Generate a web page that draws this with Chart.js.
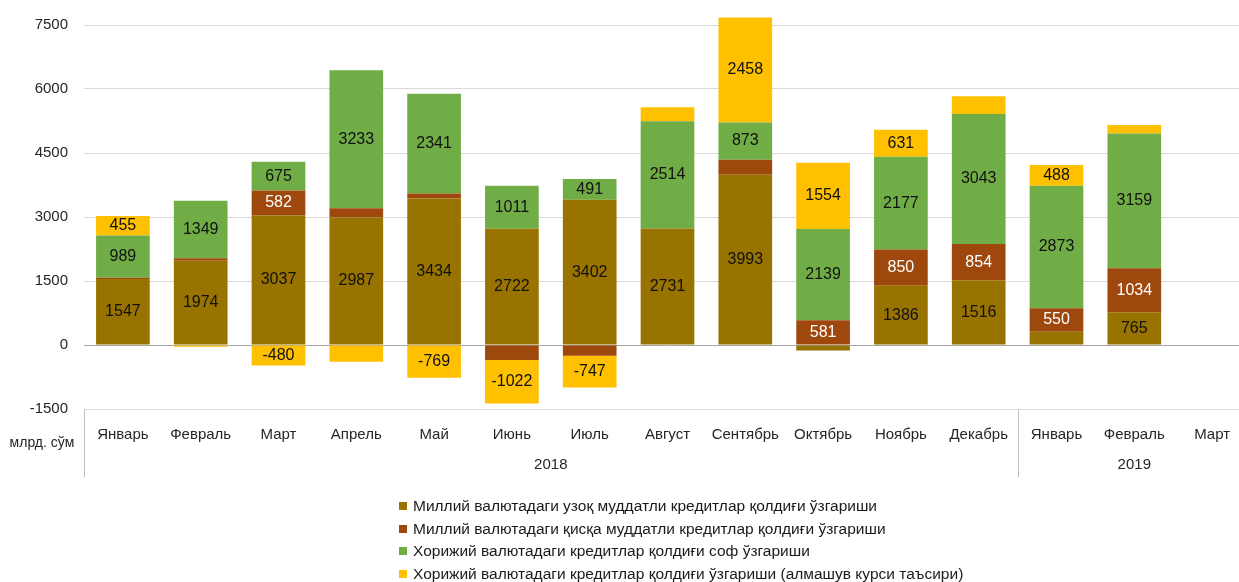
<!DOCTYPE html>
<html>
<head>
<meta charset="utf-8">
<script src="https://cdn.jsdelivr.net/npm/chart.js@4.4.0/dist/chart.umd.min.js"></script>
<style>
  html, body { margin: 0; padding: 0; background: #fff; overflow: hidden; }
  #wrap { position: relative; width: 1251px; height: 582px; }
  #legend { position: absolute; left: 399px; top: 495px; font: 15.5px "Liberation Sans", Arial, sans-serif; color: #1a1a1a; }
  #legend div { height: 22.5px; line-height: 22.5px; white-space: nowrap; }
  #legend span { display: inline-block; width: 8px; height: 8px; margin-right: 6px; vertical-align: 1px; }
</style>
</head>
<body>
<div id="wrap">
  <canvas id="chart" width="1251" height="582"></canvas>
  <div id="legend"></div>
</div>
<script>
const months = ["Январь", "Февраль", "Март", "Апрель", "Май", "Июнь", "Июль", "Август", "Сентябрь", "Октябрь", "Ноябрь", "Декабрь", "Январь", "Февраль", "Март"];
const years = ["2018", "2019"];
const yearSizes = [12, 3];

const longTerm = [1547, 1974, 3037, 2987, 3434, 2722, 3402, 2731, 3993, -130, 1386, 1516, 310, 765, null];
const shortTerm = [30, 60, 582, 220, 115, -350, -250, 0, 350, 581, 850, 854, 550, 1034, null];
const foreignNet = [989, 1349, 675, 3233, 2341, 1011, 491, 2514, 873, 2139, 2177, 3043, 2873, 3159, null];
const exchangeEffect = [455, -40, -480, -390, -769, -1022, -747, 330, 2458, 1554, 631, 420, 488, 200, null];

const seriesNames = [
  "Миллий валютадаги узоқ муддатли кредитлар қолдиғи ўзгариши",
  "Миллий валютадаги қисқа муддатли кредитлар қолдиғи ўзгариши",
  "Хорижий валютадаги кредитлар қолдиғи соф ўзгариши",
  "Хорижий валютадаги кредитлар қолдиғи ўзгариши (алмашув курси таъсири)"
];
const colors = ["#987300", "#9e480e", "#70ad47", "#ffc000"];
const labelColors = ["#111", "#fff", "#111", "#111"];

const FONT = '"Liberation Sans", Arial, sans-serif';

// подписи значений внутри сегментов
const valueLabels = {
  id: "valueLabels",
  afterDatasetsDraw(chart) {
    const ctx = chart.ctx;
    ctx.save();
    ctx.font = "16px " + FONT;
    ctx.textAlign = "center";
    ctx.textBaseline = "middle";
    chart.data.datasets.forEach((ds, i) => {
      const meta = chart.getDatasetMeta(i);
      meta.data.forEach((bar, j) => {
        const v = ds.data[j];
        if (v === null || Math.abs(v) < 450) return;
        ctx.fillStyle = labelColors[i];
        ctx.fillText(String(v), bar.x, (bar.y + bar.base) / 2);
      });
    });
    ctx.restore();
  }
};

// годы и разделители под осью
const yearRow = {
  id: "yearRow",
  afterDraw(chart) {
    const ctx = chart.ctx;
    const area = chart.chartArea;
    const x = chart.scales.x;
    ctx.save();
    ctx.strokeStyle = "#bfbfbf";
    ctx.lineWidth = 1;
    ctx.font = "15px " + FONT;
    ctx.fillStyle = "#262626";
    ctx.textAlign = "center";
    ctx.textBaseline = "middle";
    let start = 0;
    let left = area.left;
    years.forEach((yr, k) => {
      const end = start + yearSizes[k];
      const right = end < months.length ? (x.getPixelForValue(end - 1) + x.getPixelForValue(end)) / 2 : area.right;
      ctx.beginPath();
      ctx.moveTo(Math.round(left) + 0.5, area.bottom);
      ctx.lineTo(Math.round(left) + 0.5, 477);
      ctx.stroke();
      ctx.fillText(yr, (left + right) / 2, 465);
      left = right;
      start = end;
    });
    ctx.font = "14px " + FONT;
    ctx.fillText("млрд. сўм", 42, 443);
    ctx.restore();
  }
};

const datasets = [longTerm, shortTerm, foreignNet, exchangeEffect].map((d, i) => ({
  label: seriesNames[i],
  data: d,
  backgroundColor: colors[i],
  borderWidth: 0,
  categoryPercentage: 1,
  barPercentage: 0.69,
  clip: false
}));

new Chart(document.getElementById("chart"), {
  type: "bar",
  data: { labels: months, datasets: datasets },
  options: {
    responsive: false,
    animation: false,
    layout: { padding: { top: 23, right: 0, bottom: 0, left: 0 } },
    plugins: { legend: { display: false }, tooltip: { enabled: false } },
    scales: {
      x: {
        stacked: true,
        grid: { display: false, drawTicks: false },
        border: { display: false },
        ticks: { color: "#262626", font: { family: FONT, size: 15 }, padding: 17, maxRotation: 0, autoSkip: false },
        afterFit(scale) { scale.height = 173; }
      },
      y: {
        stacked: true,
        min: -1500,
        max: 7500,
        grid: {
          color: (c) => (c.tick && c.tick.value === 0 ? "#a6a6a6" : "#d9d9d9"),
          drawTicks: false
        },
        border: { display: false },
        ticks: {
          stepSize: 1500,
          color: "#262626",
          font: { family: FONT, size: 15 },
          padding: 16,
          callback: (v) => String(v)
        },
        afterFit(scale) { scale.width = 84; }
      }
    }
  },
  plugins: [valueLabels, yearRow]
});

const legend = document.getElementById("legend");
seriesNames.forEach((name, i) => {
  const row = document.createElement("div");
  const sw = document.createElement("span");
  sw.style.background = colors[i];
  row.appendChild(sw);
  row.appendChild(document.createTextNode(name));
  legend.appendChild(row);
});
</script>
</body>
</html>
